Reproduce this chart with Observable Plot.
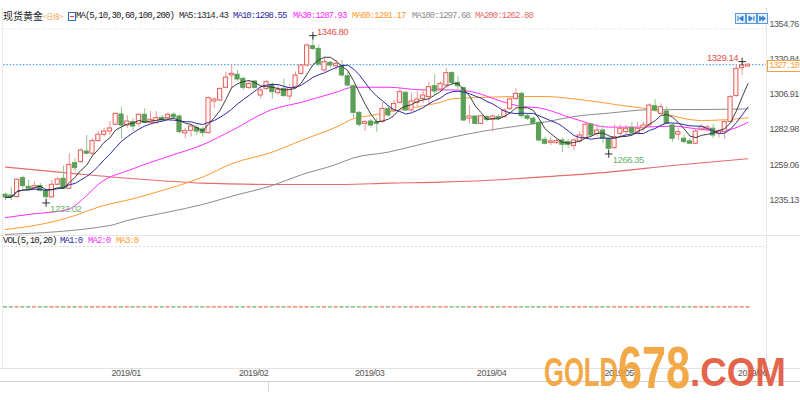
<!DOCTYPE html>
<html><head><meta charset="utf-8">
<script src="https://cdn.jsdelivr.net/npm/d3@7"></script>
<script src="https://cdn.jsdelivr.net/npm/@observablehq/plot@0.6"></script>
<style>
html,body{margin:0;padding:0;background:#fff;}
body{width:800px;height:400px;overflow:hidden;position:relative;font-family:"Liberation Sans",Arial,sans-serif;}
#main{position:absolute;left:0;top:0;}
#vol{position:absolute;left:0;top:235px;}
#main svg text, #vol svg text{letter-spacing:-0.45px;}
.leg{position:absolute;font-family:"Liberation Mono",monospace;font-size:9px;letter-spacing:-0.95px;white-space:nowrap;line-height:10px;}
.hl{position:absolute;left:0;width:800px;height:0;}
.vl{position:absolute;width:0;}
.btn{position:absolute;top:13px;width:9px;height:9px;border:1px solid #5a9be0;background:#e4f1ff;}
</style></head><body>
<div id="main"></div>
<div id="vol"></div>
<div id="deco"></div>
<script>
// ---- data ----
const open = [1238.6,1238.1,1237.0,1249.9,1244.0,1242.9,1244.5,1241.1,1236.8,1245.4,
1249.5,1242.7,1260.1,1260.8,1268.0,1266.5,1275.1,1279.4,1281.6,1286.2,
1293.2,1285.7,1288.0,1286.8,1293.0,1287.5,1287.3,1290.9,1290.7,1293.0,
1291.8,1280.3,1282.1,1284.1,1283.0,1280.5,1302.0,1302.7,1311.3,1319.7,
1320.2,1317.4,1311.3,1315.6,1306.1,1310.6,1313.4,1307.7,1310.6,1305.4,
1311.8,1320.8,1326.5,1339.6,1337.8,1323.1,1328.3,1326.0,1325.4,1319.2,
1312.4,1294.3,1286.8,1288.4,1288.0,1288.0,1296.8,1295.9,1301.1,1307.9,
1295.9,1301.1,1303.8,1305.0,1312.4,1310.2,1312.9,1321.3,1314.7,1311.1,
1290.3,1291.8,1286.8,1291.4,1289.6,1291.4,1291.4,1297.0,1303.8,1307.2,
1292.0,1290.3,1287.5,1276.0,1273.9,1273.7,1275.5,1274.4,1271.7,1274.9,
1277.1,1286.4,1280.0,1282.3,1276.7,1270.3,1280.0,1281.2,1283.9,1280.7,
1283.7,1285.7,1298.8,1293.6,1295.2,1285.7,1279.4,1276.7,1274.9,1273.3,
1283.0,1283.0,1283.5,1280.0,1281.2,1288.0,1305.7,1324.7,1325.8];
const high = [1239.7,1243.8,1249.5,1251.3,1248.3,1247.2,1246.3,1242.7,1248.3,1250.6,
1258.1,1266.5,1263.1,1269.9,1278.9,1276.7,1281.6,1283.9,1288.4,1294.3,
1298.2,1292.5,1290.3,1293.6,1297.0,1295.2,1295.2,1292.5,1294.3,1294.3,
1293.0,1283.9,1286.2,1285.7,1284.6,1305.0,1304.3,1311.1,1322.0,1326.5,
1323.1,1318.5,1315.6,1316.3,1311.8,1316.3,1314.7,1312.9,1317.4,1313.4,
1322.0,1327.0,1341.2,1346.8,1340.5,1332.2,1329.2,1329.9,1329.9,1322.0,
1313.4,1295.2,1289.1,1289.8,1290.3,1301.1,1299.3,1302.7,1310.6,1308.8,
1307.2,1308.8,1309.5,1315.2,1320.2,1315.2,1324.7,1322.4,1319.2,1311.8,
1299.3,1292.0,1292.5,1292.5,1293.0,1293.0,1297.0,1305.0,1310.6,1308.4,
1293.6,1291.4,1288.4,1277.8,1277.8,1276.7,1277.1,1276.2,1276.7,1281.6,
1286.8,1286.8,1286.2,1285.7,1277.8,1286.2,1286.2,1285.7,1288.0,1288.0,
1288.0,1300.4,1303.4,1300.4,1298.2,1286.8,1283.5,1279.4,1276.7,1283.0,
1286.2,1285.7,1286.2,1283.0,1289.1,1306.1,1326.5,1329.14,1327.3];
const low = [1234.7,1234.7,1236.3,1242.7,1241.1,1242.0,1240.4,1233.02,1236.3,1244.9,
1242.2,1242.2,1254.0,1260.3,1265.8,1265.3,1274.4,1277.8,1278.9,1285.7,
1276.7,1283.5,1281.6,1284.6,1286.8,1286.8,1286.6,1288.0,1289.6,1290.3,
1280.0,1276.7,1277.8,1278.9,1277.8,1280.0,1297.5,1302.0,1310.6,1310.6,
1315.6,1309.5,1310.2,1310.6,1303.8,1309.5,1303.4,1306.1,1305.0,1302.7,
1311.1,1319.7,1325.4,1336.7,1326.0,1322.0,1324.7,1323.1,1318.6,1311.8,
1290.7,1284.6,1281.6,1283.9,1281.2,1287.5,1291.4,1294.3,1300.4,1295.2,
1294.8,1298.8,1300.4,1299.3,1306.1,1308.4,1311.8,1312.9,1310.2,1288.4,
1286.8,1286.2,1286.2,1288.0,1281.2,1289.1,1290.7,1295.9,1302.7,1290.7,
1289.1,1285.7,1274.4,1272.6,1272.1,1273.0,1267.1,1269.9,1268.7,1273.9,
1276.7,1278.5,1277.8,1273.3,1266.35,1269.4,1277.8,1278.9,1279.4,1280.0,
1281.6,1284.6,1294.8,1292.5,1286.2,1274.4,1275.5,1273.3,1272.6,1272.6,
1281.6,1281.2,1276.7,1277.1,1276.2,1287.5,1305.0,1319.7,1325.4];
const close = [1236.8,1237.0,1248.8,1244.5,1242.7,1244.5,1241.3,1237.0,1245.4,1249.0,
1242.7,1258.9,1256.7,1268.7,1266.5,1275.1,1279.4,1281.6,1283.7,1293.6,
1285.7,1288.4,1285.0,1293.0,1287.5,1289.6,1290.7,1289.1,1293.0,1291.2,
1281.2,1281.9,1285.0,1281.6,1280.5,1304.3,1303.4,1310.6,1318.3,1320.8,
1317.0,1311.3,1314.0,1311.3,1309.5,1315.2,1308.4,1310.0,1305.7,1311.1,
1319.7,1326.5,1340.1,1337.8,1327.2,1328.8,1326.5,1327.6,1319.7,1312.9,
1294.3,1286.2,1288.0,1285.7,1286.8,1297.0,1292.5,1300.4,1308.4,1295.9,
1302.0,1303.4,1306.1,1311.8,1308.8,1314.0,1321.3,1314.7,1312.4,1289.1,
1291.8,1286.8,1292.0,1289.6,1291.8,1290.3,1295.9,1303.4,1307.2,1292.0,
1290.3,1286.8,1275.5,1273.3,1274.9,1275.1,1272.6,1272.6,1275.5,1278.9,
1286.2,1278.9,1282.3,1276.7,1269.9,1277.8,1283.5,1283.5,1280.7,1283.5,
1285.7,1299.3,1295.9,1298.2,1286.8,1276.7,1281.2,1274.4,1273.3,1281.6,
1284.6,1284.4,1278.9,1281.6,1288.0,1305.0,1324.2,1326.5,1327.1];
const volume = [0,0,0,0,0,0,0,0,0,0, 0,0,0,0,0,0,0,0,0,0, 0,0,0,0,0,0,0,0,0,0,
0,0,0,0,0,0,0,0,0,0, 0,0,0,0,0,0,0,0,0,0, 0,0,0,0,0,0,0,0,0,0,
0,0,0,0,0,0,0,0,0,0, 0,0,0,0,0,0,0,0,0,0, 0,0,0,0,0,0,0,0,0,0,
0,0,0,0,0,0,0,0,0,0, 0,0,0,0,0,0,0,0,0,0, 0,0,0,0,0,0,0,0,0,0,
0,0,0,0,0,0,0,0,0];
// longer moving averages: [candle index, value]
const ma30 = [[0,1223.0],[5,1225.7],[8,1226.8],[11,1229.0],[14,1238.1],[16,1245.6],[22,1256.3],[28,1264.6],[34,1272.6],[39,1282.3],[46,1296.6],[51,1301.5],[57,1308.3],[60,1311.7],[66,1311.7],[72,1309.9],[77,1309.9],[80,1309.0],[86,1301.5],[89,1298.6],[92,1297.7],[98,1290.3],[104,1284.6],[110,1284.6],[115,1285.3],[119,1283.5],[123,1282.0],[125,1283.0],[128,1287.9]];
const ma60 = [[0,1215.0],[5,1217.7],[9,1221.1],[12,1224.5],[16,1230.2],[22,1235.9],[28,1242.7],[34,1250.6],[39,1259.7],[46,1267.6],[51,1275.5],[57,1284.6],[60,1290.3],[63,1292.5],[69,1297.0],[75,1301.5],[77,1303.8],[83,1304.9],[89,1305.4],[93,1305.4],[98,1303.8],[106,1299.5],[112,1295.9],[116,1291.3],[120,1289.1],[124,1289.6],[128,1291.0]];
const ma100 = [[0,1211.6],[18,1217.7],[21,1221.1],[28,1226.8],[34,1232.0],[39,1237.6],[46,1244.9],[51,1252.2],[57,1259.2],[60,1263.7],[66,1267.6],[72,1273.3],[77,1277.7],[83,1282.3],[89,1285.7],[93,1288.0],[98,1291.8],[104,1294.1],[111,1296.4],[121,1296.6],[128,1297.0]];
const ma200 = [[0,1257.4],[11,1253.3],[22,1249.5],[34,1246.5],[46,1245.6],[58,1245.6],[66,1246.5],[75,1247.2],[86,1249.0],[92,1250.6],[104,1254.0],[115,1258.5],[128,1263.1]];
const yTicks = [1235.13, 1259.06, 1282.98, 1306.91, 1330.84, 1354.76];
const monthLabels = ["2019/01","2019/02","2019/03","2019/04","2019/05","2019/06"];
const monthStart = [18, 40, 60, 81, 103, 126];
const highMarks = [{i:53, v:1346.80}];
const highMarksRight = [{i:127, v:1329.14}];
const lowMarks = [{i:7, v:1233.02}, {i:104, v:1266.35}];
const lastPrice = 1327.10;
const maNames = ["MA5","MA10","MA30","MA60","MA100","MA200"];
const maValues = ["1314.43","1298.55","1287.93","1291.17","1297.68","1262.88"];
const volNames = ["MA1","MA2","MA3"];
const volValues = ["0","0","0"];

// ---- styles ----
const UP = "#e4605a", UPFILL = "#fff4f3", UPWICK = "#ee9792";
const DN = "#5c9f58", DNWICK = "#93c690";
const maColors = ["#2a2a2a","#2d2da6","#ff2cff","#ff9a2e","#8c8c8c","#e46c6a"];
const HIGHC = "#e2524c", LOWC = "#6fb36b";

const candles = open.map((o, i) => ({i, o, h: high[i], l: low[i], c: close[i], v: volume[i], up: close[i] >= o}));
const xDomain = [-0.345, 131.2];
const pairs = a => a.map(([i, v]) => ({i, v}));
const fmt = d => d.v.toFixed(2);

const main = Plot.plot({
  width: 800, height: 235, marginLeft: 3, marginRight: 34, marginTop: 0, marginBottom: 0,
  x: {domain: xDomain, axis: null},
  y: {domain: [1210.9, 1370.7], axis: "right", ticks: yTicks, tickFormat: d => d.toFixed(2), tickSize: 0, tickPadding: 3},
  color: {type: "identity"},
  style: {fontSize: "9px", fontFamily: "'Liberation Sans', Arial, sans-serif", color: "#555", background: "transparent"},
  marks: [
    Plot.ruleY([yTicks[yTicks.length - 1]], {stroke: "#d8d8d8", strokeDasharray: "1,2", dy: 5}),
    Plot.ruleY([lastPrice], {stroke: "#58a6ec", strokeWidth: 1.1, strokeDasharray: "1.5,1.8"}),
    Plot.line(pairs(ma200), {x: "i", y: "v", stroke: maColors[5], strokeWidth: 1.1, curve: "monotone-x"}),
    Plot.line(pairs(ma100), {x: "i", y: "v", stroke: maColors[4], strokeWidth: 1, curve: "monotone-x"}),
    Plot.line(pairs(ma60), {x: "i", y: "v", stroke: maColors[3], strokeWidth: 1, curve: "monotone-x"}),
    Plot.line(pairs(ma30), {x: "i", y: "v", stroke: maColors[2], strokeWidth: 1, curve: "monotone-x"}),
    Plot.ruleX(candles, {x: "i", y1: "l", y2: "h", stroke: d => d.up ? UPWICK : DNWICK, strokeWidth: 1}),
    Plot.rect(candles, {x1: d => d.i - 0.36, x2: d => d.i + 0.36, y1: "o", y2: "c",
      fill: d => d.up ? UPFILL : DN, stroke: d => d.up ? UP : DN, strokeWidth: 1}),
    Plot.line(candles, Plot.windowY({k: 10, anchor: "end", reduce: "mean"}, {x: "i", y: "c", stroke: maColors[1], strokeWidth: 1})),
    Plot.line(candles, Plot.windowY({k: 5, anchor: "end", reduce: "mean"}, {x: "i", y: "c", stroke: maColors[0], strokeWidth: 0.9})),
    Plot.dot([...highMarks, ...highMarksRight, ...lowMarks], {x: "i", y: "v", symbol: "plus", r: 2.6, stroke: "#333", strokeWidth: 1}),
    Plot.text(highMarks, {x: "i", y: "v", text: fmt, textAnchor: "start", dx: 4, dy: -4, fill: HIGHC, fontSize: 9.5}),
    Plot.text(highMarksRight, {x: "i", y: "v", text: fmt, textAnchor: "end", dx: -4, dy: -4, fill: HIGHC, fontSize: 9.5}),
    Plot.text(lowMarks, {x: "i", y: "v", text: fmt, textAnchor: "start", dx: 4, dy: 6, fill: LOWC, fontSize: 9.5})
  ]
});
document.getElementById("main").appendChild(main);

const vol = Plot.plot({
  width: 800, height: 146, marginLeft: 3, marginRight: 34, marginTop: 11, marginBottom: 13,
  x: {domain: xDomain, axis: null},
  y: {domain: [-1.02, 1], axis: null},
  color: {type: "identity"},
  style: {fontSize: "9px", fontFamily: "'Liberation Sans', Arial, sans-serif", color: "#555", background: "transparent"},
  marks: [
    Plot.ruleY([1], {stroke: "#dcdcdc", strokeDasharray: "2,2"}),
    Plot.ruleY(candles, {x1: d => d.i - 0.36, x2: d => d.i + 0.36, y: "v", stroke: d => d.up ? "#ee6a48" : "#6aa866", strokeWidth: 1.2}),
    Plot.text(monthStart.map((i, k) => ({i, label: monthLabels[k]})), {x: "i", text: "label", frameAnchor: "bottom", dy: 7, dx: 1.5, textAnchor: "start", fill: "#555", fontSize: 9})
  ]
});
document.getElementById("vol").appendChild(vol);

// ---- decorations (legends, borders, watermark) ----
const deco = document.getElementById("deco");
function add(html) { deco.insertAdjacentHTML("beforeend", html); }
add(`<div class="hl" style="top:235px;border-top:1px solid #e4e4e4"></div>`);
add(`<div class="hl" style="top:368px;border-top:1px solid #e2e2e2"></div>`);
add(`<div class="hl" style="top:381px;border-top:1px solid #d0d0d0"></div>`);
add(`<div class="vl" style="left:766px;top:8px;height:360px;border-left:1px dotted #cfcfcf"></div>`);
add(`<div class="vl" style="left:2px;top:8px;height:360px;border-left:1px dotted #d8d8d8"></div>`);
// top legend
add(`<div style="position:absolute;left:3px;top:10px;font-family:'Noto Sans CJK SC';font-size:10px;line-height:12px;color:#222;letter-spacing:0">现货黄金</div>`);
add(`<div style="position:absolute;left:43px;top:12px;font-family:'Noto Sans CJK SC';font-size:6.5px;line-height:9px;color:#f0a040;white-space:nowrap">&lt;日线&gt;</div>`);
add(`<div style="position:absolute;left:68px;top:12px;width:6px;height:7px;border:1px solid #3a66c8;background:#fff"><div style="position:absolute;left:1px;top:3px;width:4px;height:2px;border-top:1px solid #e04040"></div></div>`);
add(`<div class="leg" style="left:76px;top:11px;color:#222">MA(5,10,30,60,100,200)</div>`);
const legLeft = [179, 233, 293, 352, 412, 475];
maNames.forEach((n, k) => add(`<div class="leg" style="left:${legLeft[k]}px;top:11px;color:${maColors[k]}">${n}:${maValues[k]}</div>`));
// volume legend
add(`<div class="leg" style="left:3px;top:236px;color:#222">VOL(5,10,20)</div>`);
const volLeft = [60, 88, 116], volColors = ["#2d2da6", "#ff2cff", "#ff9a2e"];
volNames.forEach((n, k) => add(`<div class="leg" style="left:${volLeft[k]}px;top:236px;color:${volColors[k]}">${n}:${volValues[k]}</div>`));
// nav buttons
[735, 746, 757].forEach((x, k) => add(`<div class="btn" style="left:${x}px"><svg width="9" height="9" style="position:absolute;left:0;top:0">
 ${k===0?'<path d="M2 2V7M7 2L3.5 4.5L7 7Z" stroke="#3a7fd0" fill="#3a7fd0" stroke-width="1"/>':k===1?'<path d="M2 2L5.5 4.5L2 7ZM7 2V7" stroke="#3a7fd0" fill="#3a7fd0" stroke-width="1"/>':'<path d="M1.5 2L4.5 4.5L1.5 7ZM4.5 2L7.5 4.5L4.5 7Z" stroke="#3a7fd0" fill="#3a7fd0" stroke-width="0.8"/>'}</svg></div>`));
// last price box
const py = main.scale("y").apply(lastPrice);
add(`<div style="position:absolute;left:767px;top:${py - 4}px;width:32px;height:10px;border:1px solid #f0a040;background:#fff;color:#f0a040;font-family:'Liberation Mono',monospace;font-size:8.6px;line-height:10px;letter-spacing:-0.9px;padding-left:1px;overflow:hidden;white-space:nowrap">${lastPrice.toFixed(2)}</div>`);
// bottom toolbar strip
add(`<div style="position:absolute;left:0;top:382px;width:268px;height:10px;border-right:1px solid #d6d6d6"></div>`);
// watermark
add(`<svg style="position:absolute;left:0;top:0;opacity:0.93" width="800" height="400">
<text x="544" y="386" textLength="74" lengthAdjust="spacingAndGlyphs" font-family="Liberation Sans" font-weight="bold" font-size="41" fill="#f2a33a">GOLD</text>
<text x="618" y="388" textLength="72" lengthAdjust="spacingAndGlyphs" font-family="Liberation Sans" font-weight="bold" font-size="59" fill="#f2a33a">678</text>
<text x="690" y="386" textLength="96" lengthAdjust="spacingAndGlyphs" font-family="Liberation Sans" font-weight="bold" font-size="41" fill="#e25a3e">.COM</text>
</svg>`);
</script>
</body></html>
